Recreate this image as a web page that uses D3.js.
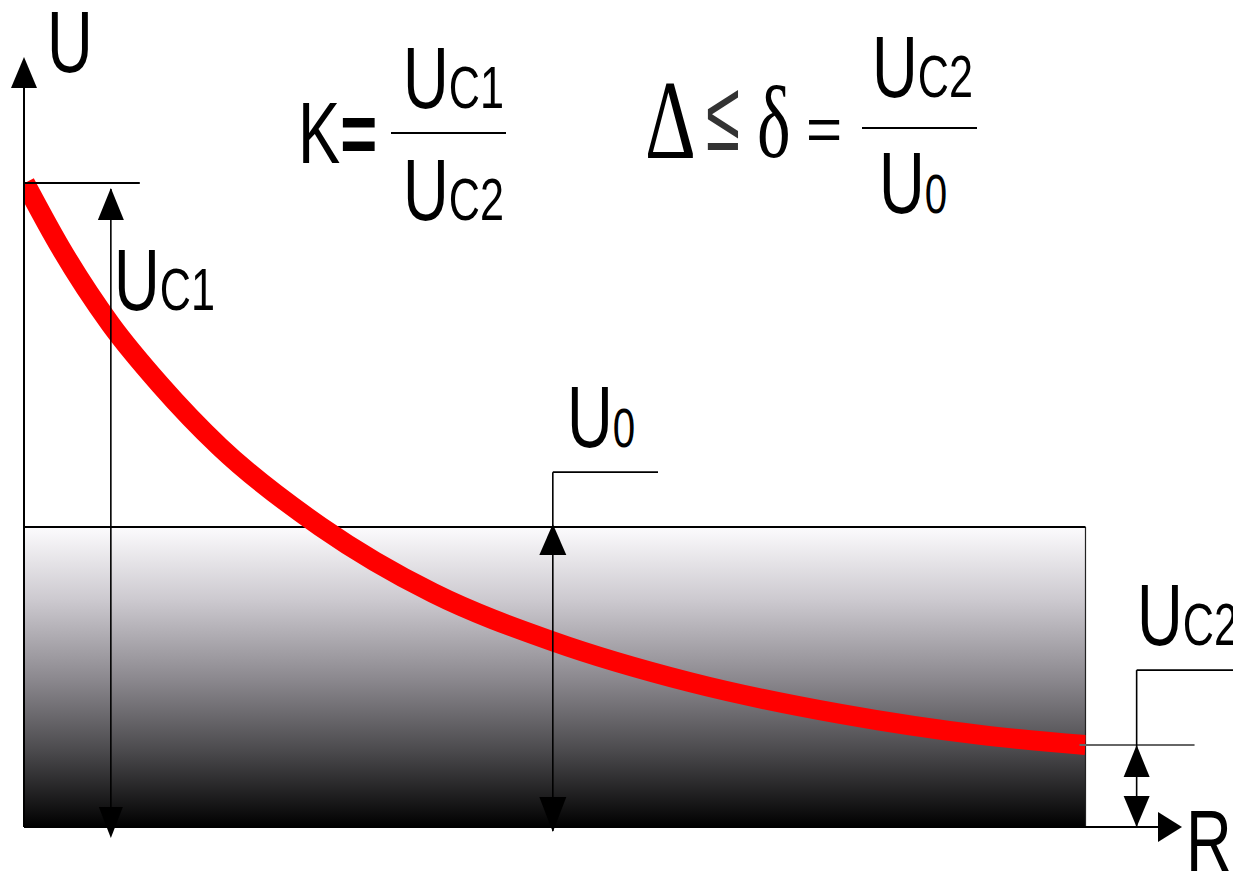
<!DOCTYPE html>
<html>
<head>
<meta charset="utf-8">
<script src="https://cdn.jsdelivr.net/npm/d3@7"></script>
<style>
  html, body { margin: 0; padding: 0; background: #fff; }
  svg { display: block; }
</style>
</head>
<body>
<svg id="chart" width="1233" height="873"></svg>
<script>
// Characteristic U(R): resistance samples and the voltage at each one
const curveR = [0.01, 0.37, 0.90, 1.41, 2.03, 3.07, 4.24, 5.48, 6.90, 8.46, 9.91, 11.0];
const curveU = [21.47, 19.36, 16.75, 14.75, 12.67, 10.02, 7.80, 6.19, 4.83, 3.77, 3.07, 2.73];

// Characteristic levels
const levelNames  = ["UC1", "U0", "UC2"];
const levelValues = [21.47, 10, 2.73];

// Axis labels
const axisLabels = ["U", "R"];

// Extent of the shaded band along R
const bandR = [0, 11];

// ---------------------------------------------------------------------------
const svg = d3.select("#chart");
const W = 1233, H = 873;

const x = d3.scaleLinear().domain([0, 12]).range([24, 1182]);
const y = d3.scaleLinear().domain([0, 25.67]).range([827, 57]);

const [uc1, u0, uc2] = levelValues;

// Dimension-line anchors, in data units
const dimR = { uc1: 0.9, u0: 5.48, uc2: 11.53 };
const refLineEndR = { uc1: 1.2, uc2: 12.13 };
const leaderU = { u0: 11.83, uc2: 5.23 };
const leaderEndR = { u0: 6.57, uc2: 12.6 };

const defs = svg.append("defs");
const grad = defs.append("linearGradient")
  .attr("id", "bandFill").attr("x1", 0).attr("y1", 0).attr("x2", 0).attr("y2", 1);
[[0, "#fcfbfd"], [0.24, "#cdcad0"], [0.5, "#8d8a90"], [0.75, "#4a494c"], [1, "#000000"]]
  .forEach(([o, c]) => grad.append("stop").attr("offset", o).attr("stop-color", c));

defs.append("clipPath").attr("id", "curveClip")
  .append("rect").attr("x", 23).attr("y", 0)
  .attr("width", x(bandR[1]) - 23).attr("height", H);

// Shaded band below U0
svg.append("rect")
  .attr("x", x(bandR[0])).attr("y", y(u0))
  .attr("width", x(bandR[1]) - x(bandR[0])).attr("height", y(0) - y(u0))
  .attr("fill", "url(#bandFill)");
svg.append("line")
  .attr("x1", x(bandR[1])).attr("x2", x(bandR[1]))
  .attr("y1", y(u0)).attr("y2", y(0))
  .attr("stroke", "#222").attr("stroke-width", 1.2);
svg.append("line")
  .attr("x1", x(0)).attr("x2", x(bandR[1]))
  .attr("y1", y(u0)).attr("y2", y(u0))
  .attr("stroke", "#000").attr("stroke-width", 2);

// Arrowhead helper: triangle with its tip at (tx, ty)
function arrow(tx, ty, dir, len = 31, half = 13) {
  let p;
  if (dir === "up")    p = [[tx, ty], [tx - half, ty + len], [tx + half, ty + len]];
  if (dir === "down")  p = [[tx, ty], [tx - half, ty - len], [tx + half, ty - len]];
  if (dir === "right") p = [[tx, ty], [tx - len, ty - half], [tx - len, ty + half]];
  svg.append("path").attr("d", "M" + p.join("L") + "Z").attr("fill", "#000");
}
function seg(x1, y1, x2, y2, w = 1.6, c = "#000") {
  svg.append("line").attr("x1", x1).attr("y1", y1).attr("x2", x2).attr("y2", y2)
    .attr("stroke", c).attr("stroke-width", w);
}

// Red characteristic curve
const line = d3.line()
  .x((d, i) => x(curveR[i]))
  .y(d => y(d))
  .curve(d3.curveMonotoneX);
svg.append("path")
  .attr("d", line(curveU))
  .attr("clip-path", "url(#curveClip)")
  .attr("fill", "none")
  .attr("stroke", "#ff0000")
  .attr("stroke-width", 20)
  .attr("stroke-linecap", "butt");

// Axes
seg(x(0), y(0), x(0), y(25.67) + 28, 2);
arrow(x(0), y(25.67), "up", 31, 13);
seg(x(0), y(0), x(12) - 24, y(0), 2);
arrow(x(12), y(0), "right", 24, 15);

// UC1 dimension
seg(x(0), y(uc1), x(refLineEndR.uc1), y(uc1), 2);
seg(x(dimR.uc1), y(uc1) + 6, x(dimR.uc1), y(0) + 8, 1.6);
arrow(x(dimR.uc1), y(uc1) + 5, "up", 32, 13);
arrow(x(dimR.uc1), y(0) + 11, "down", 31, 12);

// U0 dimension
seg(x(dimR.u0), y(leaderU.u0), x(leaderEndR.u0), y(leaderU.u0), 1.6);
seg(x(dimR.u0), y(leaderU.u0), x(dimR.u0), y(0) + 4, 1.6);
arrow(x(dimR.u0), y(u0) - 3, "up", 31, 13.5);
arrow(x(dimR.u0), y(0) + 5, "down", 35, 13.5);

// UC2 dimension
seg(x(bandR[1]) - 6, y(uc2), x(refLineEndR.uc2), y(uc2), 2, "#666");
seg(x(dimR.uc2), y(leaderU.uc2), x(leaderEndR.uc2), y(leaderU.uc2), 1.6);
seg(x(dimR.uc2), y(leaderU.uc2), x(dimR.uc2), y(0), 1.6);
arrow(x(dimR.uc2), y(uc2), "up", 32, 13);
arrow(x(dimR.uc2), y(0), "down", 31, 13);

// Text helpers (condensed sans, subscript sharing the baseline)
const SX = 0.72;
function label(px, py, main, sub, size = 88, subSize = 60) {
  const t = svg.append("text")
    .attr("transform", `translate(${px},${py}) scale(${SX},1)`)
    .attr("font-family", "'Liberation Sans', Arial, sans-serif")
    .attr("fill", "#000");
  t.append("tspan").attr("font-size", size).text(main);
  if (sub) t.append("tspan").attr("font-size", subSize).text(sub);
  return t;
}

// Axis captions
label(47, 72, axisLabels[0]);
label(1186, 871, axisLabels[1]);

// Level captions
label(114, 310, "U", levelNames[0].slice(1));
label(567, 447, "U", levelNames[1].slice(1), 88, 56);
label(1137, 645, "U", levelNames[2].slice(1));

// K = UC1 / UC2
const kText = svg.append("text")
  .attr("transform", `translate(298,163) scale(${SX},1)`)
  .attr("font-family", "'Liberation Sans', Arial, sans-serif")
  .attr("font-size", 88);
kText.append("tspan").text("K");
kText.append("tspan").attr("font-weight", "bold").text("=");
seg(391, 133, 506, 133, 2);
label(403, 108, "U", levelNames[0].slice(1));
label(403, 220, "U", levelNames[2].slice(1));

// Δ ≤ δ = UC2 / U0
svg.append("text")
  .attr("transform", `translate(645,158) scale(0.7,1)`)
  .attr("font-family", "'Liberation Serif', 'Times New Roman', serif")
  .attr("font-size", 113).text("Δ");
svg.append("text")
  .attr("transform", `translate(706,150) scale(0.62,1)`)
  .attr("font-family", "'Liberation Sans', Arial, sans-serif")
  .attr("font-size", 100).attr("fill", "#333").text("≤");
svg.append("text")
  .attr("transform", `translate(757,157) scale(0.7,1)`)
  .attr("font-family", "'Liberation Serif', 'Times New Roman', serif")
  .attr("font-size", 102).text("δ");
svg.append("text")
  .attr("transform", `translate(806,150) scale(1,1)`)
  .attr("font-family", "'Liberation Sans', Arial, sans-serif")
  .attr("font-size", 62).text("=");
seg(862, 128, 977, 128, 2);
label(872, 97, "U", levelNames[2].slice(1));
label(879, 213, "U", levelNames[1].slice(1), 88, 56);
</script>
</body>
</html>
